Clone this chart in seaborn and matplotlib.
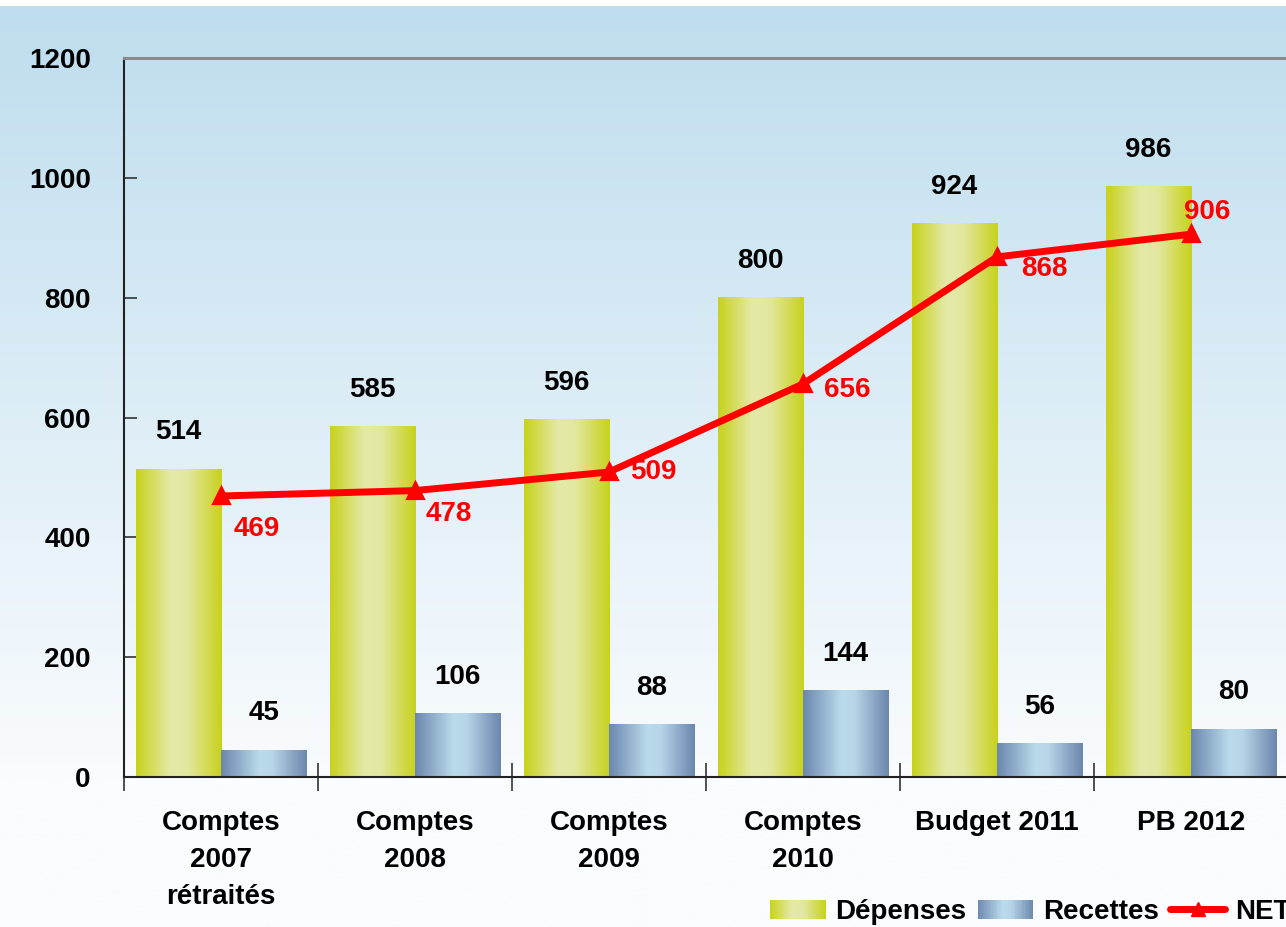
import numpy as np
import pandas as pd
import matplotlib
matplotlib.use("Agg")
import matplotlib.pyplot as plt
import seaborn as sns
from matplotlib.colors import LinearSegmentedColormap, to_rgb
from matplotlib.patches import Rectangle
from matplotlib.lines import Line2D
from matplotlib.legend_handler import HandlerBase

# données
categories = ["Comptes\n2007\nrétraités", "Comptes\n2008", "Comptes\n2009",
              "Comptes\n2010", "Budget 2011", "PB 2012"]
depenses = [514, 585, 596, 800, 924, 986]
recettes = [45, 106, 88, 144, 56, 80]
net = [469, 478, 509, 656, 868, 906]
series = ["Dépenses", "Recettes"]

# décalage des étiquettes NET (points)
net_offsets = [(26, -24), (24, -17), (32, 0), (32, -4), (34, -9), (12, 16)]

sns.set_style("ticks")
plt.rcParams["font.family"] = ["Liberation Sans", "DejaVu Sans"]
plt.rcParams["font.weight"] = "bold"
plt.rcParams["text.color"] = "black"
FS = 20

cmap_dep = LinearSegmentedColormap.from_list(
    "dep", [(0, "#C8D21E"), (0.4, "#E4E9A8"), (0.6, "#E2E7A0"), (1, "#C8D21E")])
cmap_rec = LinearSegmentedColormap.from_list(
    "rec", [(0, "#6C88AE"), (0.45, "#BADBEC"), (0.6, "#B6D6E8"), (1, "#6C88AE")])

W, H = 1286, 927
fig = plt.figure(figsize=(W / 100, H / 100), dpi=100)
fig.patch.set_facecolor("white")

# fond dégradé
bg = fig.add_axes([0, 0, 1, 1 - 6 / H], zorder=-10)
ys = np.linspace(0, 1, 400)
t = np.clip(ys / (774 / 921), 0, 1)
top = np.array(to_rgb("#BEDDEE"))
bot = np.array(to_rgb("#FAFCFE"))
grad = (top[None, :] * (1 - t[:, None]) + bot[None, :] * t[:, None])[:, None, :]
bg.imshow(grad, aspect="auto", extent=(0, 1, 0, 1))
bg.set_axis_off()

ax = fig.add_axes([124 / W, 1 - 777 / H, (1288 - 124) / W, (777 - 58) / H])
ax.set_facecolor("none")

df = pd.DataFrame({
    "cat": categories * 2,
    "serie": [series[0]] * len(categories) + [series[1]] * len(categories),
    "val": depenses + recettes,
})
sns.barplot(data=df, x="cat", y="val", hue="serie", order=categories,
            hue_order=series, width=0.88, gap=0, ax=ax, legend=False,
            palette=["#D8DE70", "#94B2CE"], saturation=1)

# remplissage en dégradé des barres
for cont, cm in zip(ax.containers, [cmap_dep, cmap_rec]):
    for p in cont.patches:
        x0, y0 = p.get_x(), p.get_y()
        w, h = p.get_width(), p.get_height()
        p.set_facecolor("none")
        p.set_edgecolor("none")
        g = cm(np.linspace(0, 1, 64))[None, :, :]
        ax.imshow(g, aspect="auto", extent=(x0, x0 + w, y0, y0 + h),
                  zorder=2, interpolation="bilinear")
    ax.bar_label(cont, labels=[str(int(v)) for v in cont.datavalues],
                 padding=17, fontsize=FS, fontweight="bold", color="black")

sns.pointplot(x=categories, y=net, order=categories, color="#FF0000",
              markers="^", markersize=9, linewidth=5, ax=ax)
for line in ax.lines:
    line.set_zorder(5)

for i, (v, off) in enumerate(zip(net, net_offsets)):
    ax.annotate(str(v), (i, v), xytext=off, textcoords="offset points",
                ha="center", va="center", fontsize=FS, fontweight="bold",
                color="#FF0000", zorder=6)

ax.set_xlim(-0.5, 5.5)
ax.set_ylim(0, 1200)
ax.set_yticks(range(0, 1201, 200))
ax.set_xlabel("")
ax.set_ylabel("")

ax.set_xticks(range(len(categories)))
ax.set_xticklabels(categories, fontsize=FS, fontweight="bold", linespacing=1.55,
                   va="top", color="black")
ax.set_xticks(np.arange(-0.5, 6, 1), minor=True)
ax.tick_params(axis="x", which="major", length=0, pad=24)
ax.tick_params(axis="x", which="minor", direction="inout", length=20,
               width=1.2, color="#333333")
ax.tick_params(axis="y", direction="in", length=9, width=1.2, pad=24,
               labelsize=FS, color="#333333", labelcolor="black")
for lab in ax.get_yticklabels():
    lab.set_fontweight("bold")

for s in ["left", "bottom"]:
    ax.spines[s].set_color("#222222")
    ax.spines[s].set_linewidth(1.5)
ax.spines["top"].set_visible(True)
ax.spines["top"].set_color("#8A8A8A")
ax.spines["top"].set_linewidth(2.2)
ax.spines["right"].set_visible(False)


class GradHandler(HandlerBase):
    def __init__(self, cm):
        super().__init__()
        self.cm = cm

    def create_artists(self, legend, orig_handle, xdescent, ydescent,
                       width, height, fontsize, trans):
        n = 40
        arts = []
        for i in range(n):
            arts.append(Rectangle((-xdescent + i * width / n, -ydescent),
                                  width / n * 1.05, height,
                                  facecolor=self.cm((i + 0.5) / n),
                                  edgecolor="none", transform=trans))
        return arts


h_dep = Rectangle((0, 0), 1, 1)
h_rec = Rectangle((0, 0), 1, 1)
h_net = Line2D([], [], color="#FF0000", lw=5, marker="^", markersize=10)
fig.legend([h_dep, h_rec, h_net], ["Dépenses", "Recettes", "NET"],
           handler_map={h_dep: GradHandler(cmap_dep), h_rec: GradHandler(cmap_rec)},
           loc="center left", bbox_to_anchor=(770 / W, 1 - 912 / H),
           ncol=3, frameon=False, handlelength=2.0,
           handletextpad=0.35, columnspacing=0.4, borderpad=0,
           borderaxespad=0, prop={"weight": "bold", "size": FS},
           labelcolor="black")

fig.savefig("out.png", dpi=100)
